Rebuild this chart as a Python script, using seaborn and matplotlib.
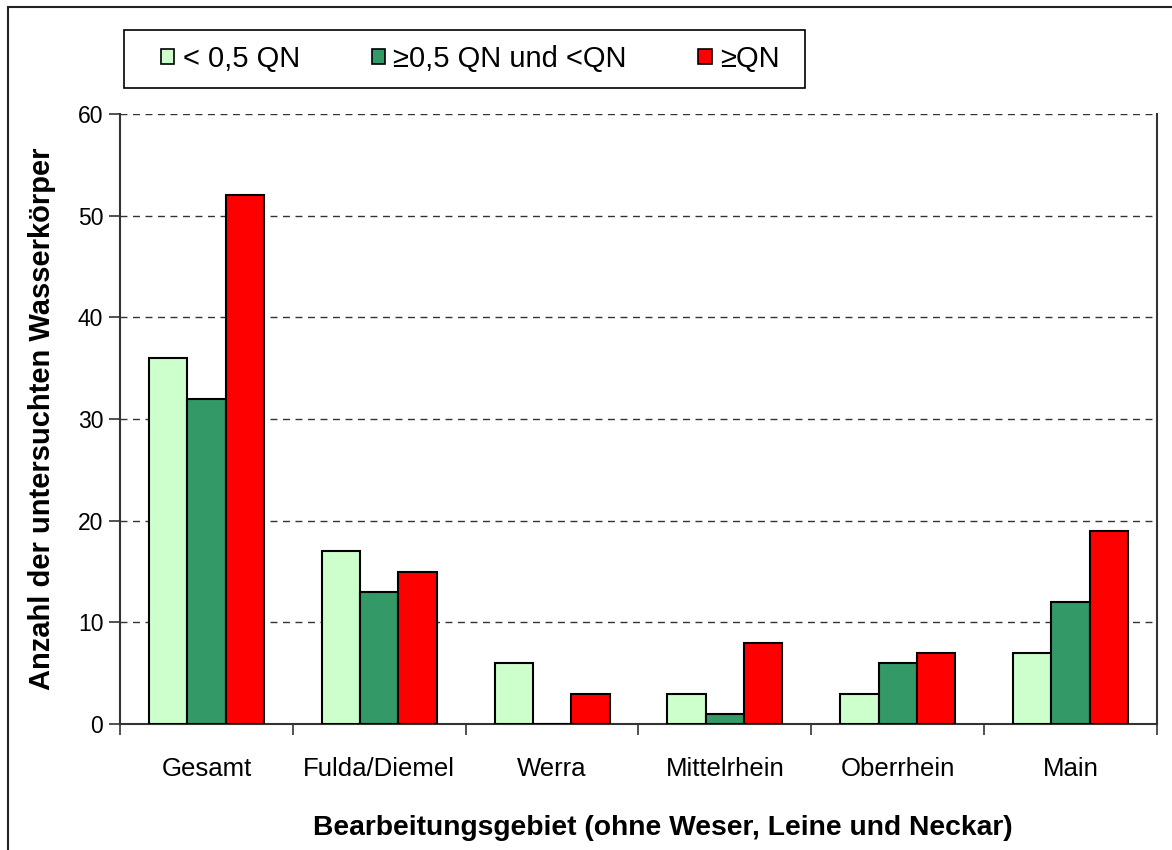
import numpy as np
import pandas as pd
import seaborn as sns
import matplotlib
matplotlib.use("Agg")
import matplotlib.pyplot as plt
from matplotlib.patches import Rectangle, Patch

# Data
gebiete = ["Gesamt", "Fulda/Diemel", "Werra", "Mittelrhein", "Oberrhein", "Main"]
klassen = ["< 0,5 QN", "\u22650,5 QN und <QN", "\u2265QN"]
unter_halb = [36, 17, 6, 3, 3, 7]
halb_bis_qn = [32, 13, 0, 1, 6, 12]
ueber_qn = [52, 15, 3, 8, 7, 19]
farben = ["#ccffcc", "#339966", "#ff0000"]
y_ticks = [0, 10, 20, 30, 40, 50, 60]

df = pd.DataFrame({
    "Gebiet": gebiete * 3,
    "Anzahl": unter_halb + halb_bis_qn + ueber_qn,
    "Klasse": [klassen[0]] * 6 + [klassen[1]] * 6 + [klassen[2]] * 6,
})

sns.set_theme(style="white", rc={"text.color": "black", "axes.labelcolor": "black",
                                 "xtick.color": "black", "ytick.color": "black"})
plt.rcParams["font.family"] = ["Liberation Sans", "DejaVu Sans"]

fig = plt.figure(figsize=(11.72, 8.5), dpi=100)
W, H = 1172, 850
ax = fig.add_axes([120 / W, 1 - 724 / H, (1157 - 120) / W, (724 - 114) / H])

sns.barplot(data=df, x="Gebiet", y="Anzahl", hue="Klasse", order=gebiete,
            hue_order=klassen, palette=farben, saturation=1, width=0.665,
            edgecolor="black", linewidth=1.5, ax=ax, legend=False, zorder=3)

ax.set_xlim(-0.5, len(gebiete) - 0.5)
ax.set_ylim(0, 60)
ax.set_yticks(y_ticks)
ax.set_yticklabels([str(t) for t in y_ticks], fontsize=16.5)
ax.yaxis.grid(True, linestyle=(0, (5, 4)), color="#333333", linewidth=1.0, zorder=0)
ax.xaxis.grid(False)
ax.set_axisbelow(True)

# category labels centred, tick marks between categories
ax.set_xticks(np.arange(-0.5, len(gebiete)), minor=False)
ax.set_xticklabels([])
ax.set_xticks(np.arange(len(gebiete)), minor=True)
ax.set_xticklabels(gebiete, minor=True, fontsize=18.5)
ax.tick_params(axis="x", which="major", length=8, width=1.2, color="#333333", direction="out", bottom=True)
ax.tick_params(axis="x", which="minor", length=0, pad=24)
ax.tick_params(axis="y", length=8, width=1.2, color="#333333", direction="out", left=True, pad=4)

for side in ["left", "bottom", "right"]:
    ax.spines[side].set_visible(True)
    ax.spines[side].set_color("#333333")
    ax.spines[side].set_linewidth(1.5)
ax.spines["top"].set_visible(False)

ax.set_xlabel("Bearbeitungsgebiet (ohne Weser, Leine und Neckar)", fontsize=20.3,
              fontweight="bold")
ax.xaxis.set_label_coords((663 - 120) / (1157 - 120), -(828 - 724) / (724 - 114))
ax.xaxis.label.set_verticalalignment("center")
ax.set_ylabel("Anzahl der untersuchten Wasserk\u00f6rper", fontsize=21,
              fontweight="bold", labelpad=16)

# outer chart frame
fig.patches.append(Rectangle((8 / W, -0.1), 1.2, 1 - 7 / H + 0.1, transform=fig.transFigure,
                             fill=False, edgecolor="#222222", linewidth=1.5))

# legend box
fig.patches.append(Rectangle((124 / W, 1 - 88 / H), (805 - 124) / W, 58 / H,
                             transform=fig.transFigure, fill=False, edgecolor="black",
                             linewidth=1.2))
handles = [Patch(facecolor=c, edgecolor="black", linewidth=1.2) for c in farben]
leg = fig.legend(handles, klassen, loc="center left", bbox_to_anchor=(161 / W, 1 - 59 / H),
                 ncol=3, fontsize=21, frameon=False, handlelength=0.45,
                 handleheight=0.45, handletextpad=0.3, columnspacing=2.45, borderpad=0,
                 borderaxespad=0)

fig.savefig("out.png", dpi=100)
